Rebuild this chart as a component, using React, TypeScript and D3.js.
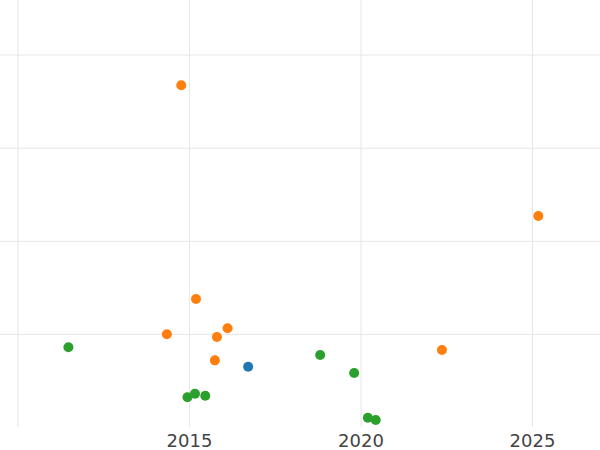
import React from "react";
import * as d3 from "d3";

const xTicks = [2010, 2015, 2020, 2025];
const xTickLabels = ["", "2015", "2020", "2025"];
const yTicks = [100, 200, 300, 400];

const orangeX = [2014.76, 2025.17, 2015.19, 2014.34, 2016.11, 2015.80, 2015.74, 2022.36];
const orangeY = [367.5, 227.2, 138.1, 100.2, 106.6, 97.3, 72.2, 83.3];
const greenX = [2011.47, 2014.94, 2015.16, 2015.46, 2018.81, 2019.80, 2020.20, 2020.43];
const greenY = [86.2, 32.5, 36.4, 34.2, 77.9, 58.6, 10.6, 8.2];
const blueX = [2016.71];
const blueY = [65.4];

const seriesColors = ["#1f77b4", "#ff7f0e", "#2ca02c"];

export default function App() {
  const W = 600;
  const H = 450;
  const plotBottom = 427;
  const x = d3.scaleLinear().domain([2010, 2025]).range([18, 532.5]);
  const y = d3.scaleLinear().domain([0, 400]).range([427.6, 55]);

  const series = [
    { xs: blueX, ys: blueY, color: seriesColors[0] },
    { xs: orangeX, ys: orangeY, color: seriesColors[1] },
    { xs: greenX, ys: greenY, color: seriesColors[2] },
  ];

  return (
    <svg
      width={W}
      height={H}
      style={{ position: "fixed", left: 0, top: 0, background: "#fff" }}
    >
      <g>
        {yTicks.map((t) => (
          <line
            key={"h" + t}
            x1={0}
            x2={W}
            y1={y(t)}
            y2={y(t)}
            stroke="#e6e6e6"
            strokeWidth={1}
          />
        ))}
        {xTicks.map((t) => (
          <line
            key={"v" + t}
            x1={x(t)}
            x2={x(t)}
            y1={0}
            y2={plotBottom}
            stroke="#e6e6e6"
            strokeWidth={1}
          />
        ))}
      </g>
      <g>
        {series.map((s, si) =>
          s.xs.map((xv, i) => (
            <circle
              key={si + "-" + i}
              cx={x(xv)}
              cy={y(s.ys[i])}
              r={5}
              fill={s.color}
            />
          ))
        )}
      </g>
      <g>
        {xTicks.map((t, i) => (
          <text
            key={"l" + t}
            x={x(t)}
            y={447}
            textAnchor="middle"
            fontFamily="DejaVu Sans"
            fontSize={18}
            fill="#444"
          >
            {xTickLabels[i]}
          </text>
        ))}
      </g>
    </svg>
  );
}
